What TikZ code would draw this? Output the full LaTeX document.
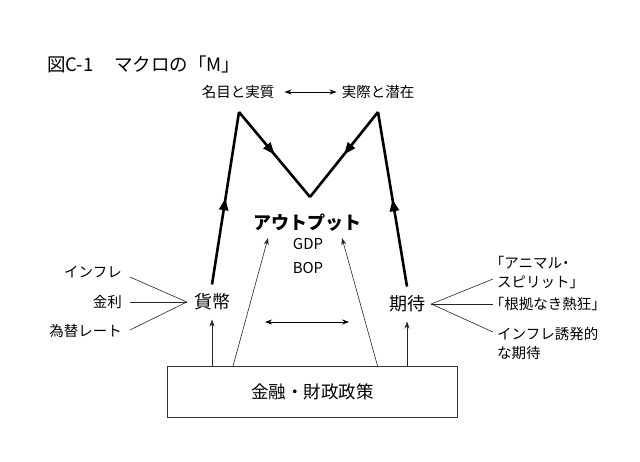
\documentclass[tikz,border=0pt]{standalone}
\usepackage{fontspec}
\setmainfont{Noto Sans CJK JP}
\newfontfamily\halfpunct[RawFeature=+halt]{Noto Sans CJK JP}
\usetikzlibrary{arrows.meta,decorations.markings}
\tikzset{
  lbl/.style={inner sep=0pt, font=\fontsize{14.5}{19}\selectfont},
  big/.style={inner sep=0pt, font=\fontsize{18}{21}\selectfont},
  thinline/.style={line width=0.6pt, black!85},
  thinarrow/.style={thinline, -{Stealth[length=7pt,width=5pt]}},
  dblarrow/.style={line width=0.8pt, {Stealth[length=7pt,width=5pt]}-{Stealth[length=7pt,width=5pt]}},
  mline/.style={line width=2.6pt, line join=miter, postaction={decorate},
    decoration={markings, mark=at position 0.5 with {\arrow{Triangle[length=12pt,width=9pt]}}}},
}
\begin{document}
\begin{tikzpicture}[x=1pt,y=-1pt]
\useasboundingbox[fill=white] (0,0) rectangle (640,461);

% title
\node[inner sep=0pt, anchor=west, font=\fontsize{18.5}{21}\selectfont] (title) at (47,64) {図C-1\hspace{1.1em}マクロの「M」};

% top labels
\node[lbl] (meimoku) at (238,92) {名目と実質};
\node[lbl] (jissai) at (378,92) {実際と潜在};
\draw[dblarrow] ([xshift=10pt]meimoku.east) -- ([xshift=-5pt]jissai.west);

% output
\node[inner sep=0pt, font=\fontsize{18}{21}\selectfont\bfseries] (out) at (307,223) {アウトプット};
\node[inner sep=0pt, font=\fontsize{15}{18}\selectfont] (gdp) at (308,244) {GDP};
\node[inner sep=0pt, font=\fontsize{15}{18}\selectfont] (bop) at (308,268) {BOP};

% money & expectation
\node[big] (kahei) at (212,302) {貨幣};
\node[big] (kitai) at (407,304) {期待};

% M shape
\coordinate (pL) at (239,112);
\coordinate (valley) at (310,197);
\coordinate (pR) at (378,112);
\draw[mline] ([yshift=9pt]kahei.north) -- (pL);
\draw[mline] (pL) -- (valley);
\draw[mline] (pR) -- (valley);
\draw[mline] ([yshift=9pt]kitai.north) -- (pR);

% left factors
\node[lbl, anchor=east] (infl) at (122,272) {インフレ};
\node[lbl, anchor=east] (kinri) at (122,302) {金利};
\node[lbl, anchor=east] (kawase) at (122,331) {為替レート};
\draw[thinline] ([shift={(8,5)}]infl.east) -- ([xshift=-7pt]kahei.west);
\draw[thinline] ([xshift=8pt]kinri.east) -- ([xshift=-7pt]kahei.west);
\draw[thinline] ([shift={(8,-1)}]kawase.east) -- ([xshift=-7pt]kahei.west);

% right factors
\node[lbl, anchor=west, align=left, font=\fontsize{14.5}{19}\selectfont\halfpunct] (animal) at (497,272) {「アニマル・\\スピリット」};
\node[lbl, anchor=west, font=\fontsize{14.5}{19}\selectfont\halfpunct] (konkyo) at (497,304) {「根拠なき熱狂」};
\node[lbl, anchor=west, align=left] (yuhatsu) at (497,343) {インフレ誘発的\\な期待};
\coordinate (animalIn) at (493,279);
\coordinate (yuhatsuIn) at (493,332);
\draw[thinline] ([xshift=6pt]kitai.east) -- (animalIn);
\draw[thinline] ([xshift=6pt]kitai.east) -- ([xshift=-4pt]konkyo.west);
\draw[thinline] ([xshift=6pt]kitai.east) -- (yuhatsuIn);

% policy box
\node[draw, line width=0.7pt, black!80, text=black, minimum width=290pt, minimum height=51pt, inner sep=0pt,
      font=\fontsize{17.5}{20}\selectfont] (box) at (312.3,392.2) {金融・財政政策};

\coordinate (outL) at (268,238);
\coordinate (outR) at (342,238);
\draw[thinarrow] (box.north -| kahei) -- ([yshift=-9pt]kahei.south);
\draw[thinarrow] (box.north -| kitai) -- ([yshift=-9pt]kitai.south);
\draw[thinarrow] ([xshift=66pt]box.north west) -- (outL);
\draw[thinarrow] ([xshift=-80pt]box.north east) -- (outR);

% middle double arrow
\coordinate (dL) at (265,322);
\coordinate (dR) at (349,322);
\draw[dblarrow] (dL) -- (dR);
\end{tikzpicture}
\end{document}
